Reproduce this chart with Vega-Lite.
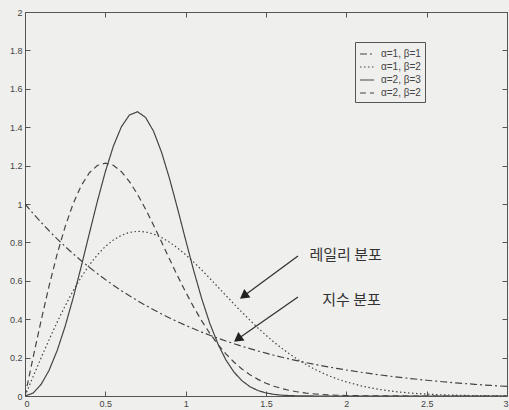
{
  "$schema": "https://vega.github.io/schema/vega-lite/v6.json",
  "width": 482,
  "height": 384,
  "autosize": "none",
  "padding": {"left": 25, "top": 12, "right": 2, "bottom": 14},
  "background": "#efefed",
  "config": {
    "view": {"stroke": "#555", "strokeWidth": 1},
    "font": "Liberation Sans",
    "axis": {"domain": false, "grid": false, "tickColor": "#555", "tickWidth": 1, "labelColor": "#444", "labelFontSize": 9, "labelFont": "Liberation Sans", "format": "~g"}
  },
  "datasets": {
    "curves": [
      {"x": 0, "a11": 1, "a12": 0, "a23": 0, "a22": 0},
      {"x": 0.05, "a11": 0.9512, "a12": 0.0998, "a23": 0.015, "a22": 0.199},
      {"x": 0.1, "a11": 0.9048, "a12": 0.198, "a23": 0.0599, "a22": 0.3921},
      {"x": 0.15, "a11": 0.8607, "a12": 0.2933, "a23": 0.1341, "a22": 0.5736},
      {"x": 0.2, "a11": 0.8187, "a12": 0.3843, "a23": 0.2362, "a22": 0.7385},
      {"x": 0.25, "a11": 0.7788, "a12": 0.4697, "a23": 0.3635, "a22": 0.8825},
      {"x": 0.3, "a11": 0.7408, "a12": 0.5484, "a23": 0.5116, "a22": 1.0023},
      {"x": 0.35, "a11": 0.7047, "a12": 0.6193, "a23": 0.6746, "a22": 1.0958},
      {"x": 0.4, "a11": 0.6703, "a12": 0.6817, "a23": 0.8447, "a22": 1.1618},
      {"x": 0.45, "a11": 0.6376, "a12": 0.735, "a23": 1.0126, "a22": 1.2006},
      {"x": 0.5, "a11": 0.6065, "a12": 0.7788, "a23": 1.1682, "a22": 1.2131},
      {"x": 0.55, "a11": 0.5769, "a12": 0.8129, "a23": 1.3013, "a22": 1.2014},
      {"x": 0.6, "a11": 0.5488, "a12": 0.8372, "a23": 1.4023, "a22": 1.1682},
      {"x": 0.65, "a11": 0.522, "a12": 0.852, "a23": 1.4637, "a22": 1.1169},
      {"x": 0.7, "a11": 0.4966, "a12": 0.8577, "a23": 1.4806, "a22": 1.0509},
      {"x": 0.75, "a11": 0.4724, "a12": 0.8547, "a23": 1.4516, "a22": 0.974},
      {"x": 0.8, "a11": 0.4493, "a12": 0.8437, "a23": 1.3792, "a22": 0.8897},
      {"x": 0.85, "a11": 0.4274, "a12": 0.8254, "a23": 1.2693, "a22": 0.8015},
      {"x": 0.9, "a11": 0.4066, "a12": 0.8007, "a23": 1.1309, "a22": 0.7124},
      {"x": 0.95, "a11": 0.3867, "a12": 0.7705, "a23": 0.9748, "a22": 0.625},
      {"x": 1.0, "a11": 0.3679, "a12": 0.7358, "a23": 0.812, "a22": 0.5413},
      {"x": 1.05, "a11": 0.3499, "a12": 0.6973, "a23": 0.6531, "a22": 0.463},
      {"x": 1.1, "a11": 0.3329, "a12": 0.656, "a23": 0.5068, "a22": 0.3912},
      {"x": 1.15, "a11": 0.3166, "a12": 0.6129, "a23": 0.3788, "a22": 0.3266},
      {"x": 1.2, "a11": 0.3012, "a12": 0.5686, "a23": 0.2727, "a22": 0.2694},
      {"x": 1.25, "a11": 0.2865, "a12": 0.524, "a23": 0.1885, "a22": 0.2197},
      {"x": 1.3, "a11": 0.2725, "a12": 0.4797, "a23": 0.1252, "a22": 0.1771},
      {"x": 1.35, "a11": 0.2592, "a12": 0.4364, "a23": 0.0797, "a22": 0.1411},
      {"x": 1.4, "a11": 0.2466, "a12": 0.3944, "a23": 0.0486, "a22": 0.1111},
      {"x": 1.45, "a11": 0.2346, "a12": 0.3542, "a23": 0.0284, "a22": 0.0865},
      {"x": 1.5, "a11": 0.2231, "a12": 0.3162, "a23": 0.0158, "a22": 0.0667},
      {"x": 1.55, "a11": 0.2122, "a12": 0.2805, "a23": 0.0084, "a22": 0.0508},
      {"x": 1.6, "a11": 0.2019, "a12": 0.2474, "a23": 0.0043, "a22": 0.0383},
      {"x": 1.65, "a11": 0.192, "a12": 0.2168, "a23": 0.0021, "a22": 0.0285},
      {"x": 1.7, "a11": 0.1827, "a12": 0.189, "a23": 0.0009, "a22": 0.021},
      {"x": 1.75, "a11": 0.1738, "a12": 0.1637, "a23": 0.0004, "a22": 0.0153},
      {"x": 1.8, "a11": 0.1653, "a12": 0.141, "a23": 0.0001, "a22": 0.011},
      {"x": 1.85, "a11": 0.1572, "a12": 0.1207, "a23": 0, "a22": 0.0079},
      {"x": 1.9, "a11": 0.1496, "a12": 0.1028, "a23": 0, "a22": 0.0056},
      {"x": 1.95, "a11": 0.1423, "a12": 0.087, "a23": 0, "a22": 0.0039},
      {"x": 2.0, "a11": 0.1353, "a12": 0.0733, "a23": 0, "a22": 0.0027},
      {"x": 2.1, "a11": 0.1225, "a12": 0.0511, "a23": 0, "a22": 0.0012},
      {"x": 2.2, "a11": 0.1108, "a12": 0.0348, "a23": 0, "a22": 0.0006},
      {"x": 2.3, "a11": 0.1003, "a12": 0.0232, "a23": 0, "a22": 0.0002},
      {"x": 2.4, "a11": 0.0907, "a12": 0.0151, "a23": 0, "a22": 0.0001},
      {"x": 2.5, "a11": 0.0821, "a12": 0.0097, "a23": 0, "a22": 0},
      {"x": 2.6, "a11": 0.0743, "a12": 0.006, "a23": 0, "a22": 0},
      {"x": 2.7, "a11": 0.0672, "a12": 0.0037, "a23": 0, "a22": 0},
      {"x": 2.8, "a11": 0.0608, "a12": 0.0022, "a23": 0, "a22": 0},
      {"x": 2.9, "a11": 0.055, "a12": 0.0013, "a23": 0, "a22": 0},
      {"x": 3.0, "a11": 0.0498, "a12": 0.0007, "a23": 0, "a22": 0}
    ],
    "notes": [
      {"label": "레일리 분포", "tx": 1.77, "ty": 0.735, "x0": 1.699, "y0": 0.729, "x1": 1.361, "y1": 0.521},
      {"label": "지수 분포", "tx": 1.85, "ty": 0.5, "x0": 1.699, "y0": 0.516, "x1": 1.324, "y1": 0.297}
    ]
  },
  "resolve": {"axis": {"x": "independent", "y": "independent"}},
  "layer": [
    {
      "data": {"name": "curves"},
      "transform": [{"fold": ["a11", "a12", "a23", "a22"], "as": ["series", "y"]}],
      "mark": {"type": "line", "color": "#444", "strokeWidth": 1.2, "clip": true},
      "encoding": {
        "x": {"field": "x", "type": "quantitative", "scale": {"domain": [0, 3], "nice": false},
              "axis": {"orient": "bottom", "title": null, "values": [0, 0.5, 1, 1.5, 2, 2.5, 3], "tickSize": -5, "labelPadding": 8, "labelFlush": true, "labelFlushOffset": 1}},
        "y": {"field": "y", "type": "quantitative", "scale": {"domain": [0, 2], "nice": false},
              "axis": {"orient": "left", "title": null, "values": [0, 0.2, 0.4, 0.6, 0.8, 1, 1.2, 1.4, 1.6, 1.8, 2], "tickSize": -5, "labelPadding": 8, "labelFlush": false}},
        "detail": {"field": "series"},
        "strokeDash": {"field": "series", "type": "nominal",
          "scale": {"domain": ["a11", "a12", "a23", "a22"], "range": [[7, 3, 2, 3], [1.5, 2.5], [1, 0], [6, 4]]},
          "legend": {"orient": "none", "legendX": 330, "legendY": 30, "title": null,
            "labelExpr": "datum.value == 'a11' ? 'α=1, β=1' : datum.value == 'a12' ? 'α=1, β=2' : datum.value == 'a23' ? 'α=2, β=3' : 'α=2, β=2'",
            "strokeColor": "#555", "fillColor": "#efefed", "padding": 4, "symbolType": "stroke", "symbolSize": 200, "symbolStrokeColor": "#444", "symbolStrokeWidth": 1.2,
            "labelFontSize": 10, "labelColor": "#444", "rowPadding": 0, "symbolOffset": 0, "labelOffset": 6}
        }
      }
    },
    {
      "data": {"name": "curves"},
      "mark": {"type": "point", "opacity": 0},
      "encoding": {
        "x": {"field": "x", "type": "quantitative", "scale": {"domain": [0, 3], "nice": false},
              "axis": {"orient": "top", "title": null, "values": [0, 0.5, 1, 1.5, 2, 2.5, 3], "tickSize": -5, "labels": false}},
        "y": {"field": "a11", "type": "quantitative", "scale": {"domain": [0, 2], "nice": false},
              "axis": {"orient": "right", "title": null, "values": [0, 0.2, 0.4, 0.6, 0.8, 1, 1.2, 1.4, 1.6, 1.8, 2], "tickSize": -5, "labels": false}}
      }
    },
    {
      "data": {"name": "notes"},
      "mark": {"type": "rule", "color": "#333", "strokeWidth": 1.3},
      "encoding": {
        "x": {"field": "x0", "type": "quantitative", "scale": {"domain": [0, 3], "nice": false}, "axis": null},
        "y": {"field": "y0", "type": "quantitative", "scale": {"domain": [0, 2], "nice": false}, "axis": null},
        "x2": {"field": "x1"},
        "y2": {"field": "y1"}
      }
    },
    {
      "data": {"name": "notes"},
      "mark": {"type": "point", "shape": "triangle-up", "filled": true, "color": "#222", "opacity": 1, "size": 110, "angle": 234},
      "encoding": {
        "x": {"field": "x1", "type": "quantitative", "scale": {"domain": [0, 3], "nice": false}, "axis": null},
        "y": {"field": "y1", "type": "quantitative", "scale": {"domain": [0, 2], "nice": false}, "axis": null}
      }
    },
    {
      "data": {"name": "notes"},
      "mark": {"type": "text", "align": "left", "baseline": "middle", "fontSize": 15, "font": "Noto Sans CJK KR", "color": "#333"},
      "encoding": {
        "x": {"field": "tx", "type": "quantitative", "scale": {"domain": [0, 3], "nice": false}, "axis": null},
        "y": {"field": "ty", "type": "quantitative", "scale": {"domain": [0, 2], "nice": false}, "axis": null},
        "text": {"field": "label"}
      }
    }
  ]
}
